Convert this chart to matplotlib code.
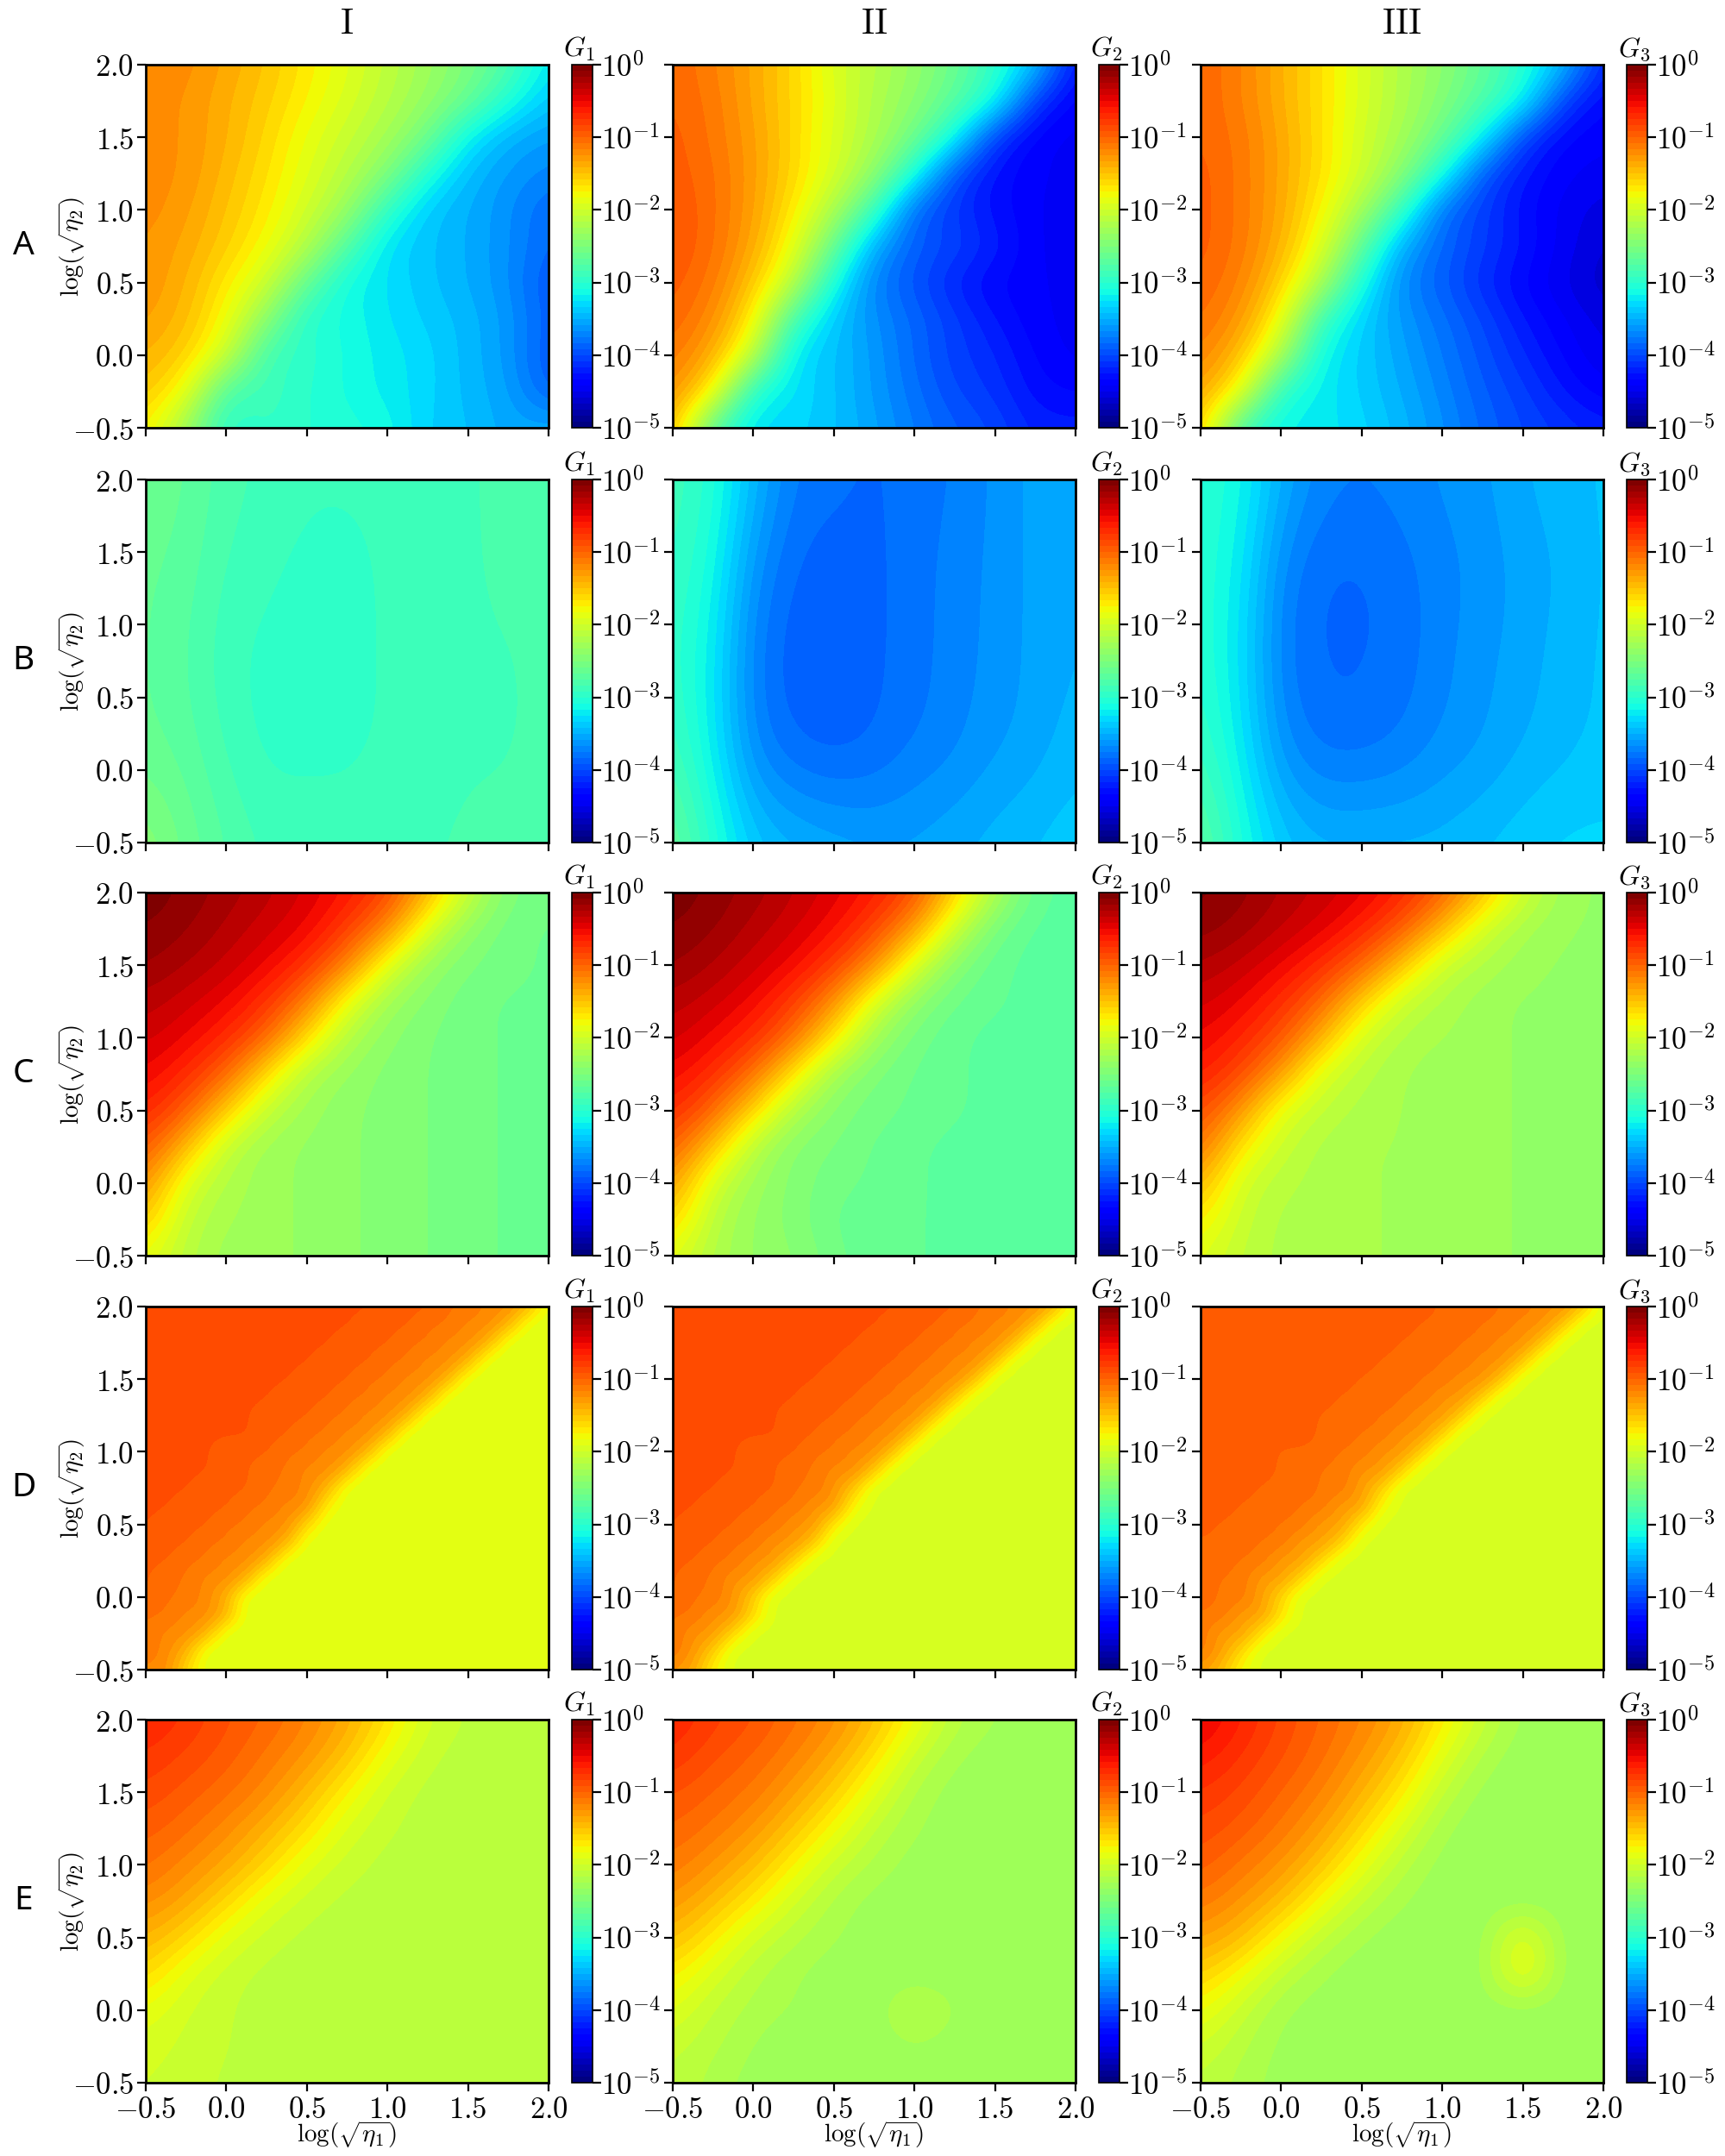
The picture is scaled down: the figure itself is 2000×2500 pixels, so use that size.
#!/usr/bin/env python
import numpy as np
import matplotlib
matplotlib.use('Agg')
import matplotlib.pyplot as plt

plt.rcParams['mathtext.fontset'] = 'cm'
plt.rcParams['axes.linewidth'] = 1.0

row_names = ['A', 'B', 'C', 'D', 'E']
col_names = ['I', 'II', 'III']
ticks = [-0.5, 0.0, 0.5, 1.0, 1.5, 2.0]
cbar_ticks = [-5, -4, -3, -2, -1, 0]

# log10(G), first row is the top of the panel (log sqrt(eta2) = 2)
A1 = [[-1.2,-1.2,-1.35,-1.5,-1.7,-1.9,-2.1,-2.3,-2.5,-2.75,-3.25],
      [-1.2,-1.25,-1.4,-1.55,-1.75,-1.95,-2.15,-2.35,-2.6,-3.05,-3.4],
      [-1.2,-1.25,-1.4,-1.6,-1.85,-2.05,-2.25,-2.55,-3.2,-3.5,-3.6],
      [-1.2,-1.25,-1.45,-1.65,-1.9,-2.15,-2.45,-3.05,-3.45,-3.6,-3.7],
      [-1.2,-1.3,-1.5,-1.7,-2.0,-2.3,-2.95,-3.4,-3.5,-3.65,-3.85],
      [-1.25,-1.35,-1.55,-1.8,-2.15,-2.75,-3.3,-3.4,-3.5,-3.65,-3.85],
      [-1.25,-1.4,-1.7,-2.0,-2.65,-3.15,-3.25,-3.4,-3.5,-3.65,-3.95],
      [-1.3,-1.45,-1.8,-2.4,-3.05,-3.1,-3.25,-3.35,-3.45,-3.6,-3.9],
      [-1.4,-1.55,-2.0,-2.9,-2.95,-3.1,-3.2,-3.3,-3.45,-3.6,-3.95],
      [-1.5,-1.8,-2.85,-2.85,-3.0,-3.1,-3.2,-3.3,-3.45,-3.55,-3.9],
      [-1.7,-2.3,-3.05,-2.9,-3.0,-3.05,-3.1,-3.35,-3.4,-3.55,-3.5]]
A2 = [[-1.0,-1.15,-1.35,-1.6,-1.95,-2.15,-2.35,-2.6,-2.95,-3.35,-4.3],
      [-1.0,-1.1,-1.35,-1.6,-1.9,-2.2,-2.4,-2.7,-3.05,-4.1,-4.4],
      [-0.95,-1.1,-1.3,-1.6,-1.95,-2.2,-2.55,-3.1,-4.1,-4.4,-4.45],
      [-0.95,-1.05,-1.3,-1.6,-1.95,-2.35,-3.05,-4.0,-4.3,-4.4,-4.45],
      [-0.9,-1.05,-1.3,-1.7,-2.2,-2.85,-3.9,-4.1,-4.3,-4.4,-4.5],
      [-0.9,-1.05,-1.35,-1.85,-2.6,-3.55,-3.9,-4.0,-4.2,-4.4,-4.5],
      [-0.95,-1.1,-1.5,-2.1,-3.1,-3.75,-3.95,-4.2,-4.35,-4.4,-4.45],
      [-1.0,-1.2,-1.7,-2.85,-3.4,-3.65,-3.85,-4.05,-4.25,-4.4,-4.45],
      [-1.1,-1.35,-2.05,-3.3,-3.4,-3.6,-3.85,-4.05,-4.15,-4.35,-4.45],
      [-1.2,-1.7,-3.1,-3.25,-3.4,-3.6,-3.8,-4.0,-4.1,-4.3,-4.35],
      [-1.4,-2.8,-3.3,-3.3,-3.4,-3.55,-3.75,-3.9,-4.0,-4.2,-4.2]]
A3 = [[-1.0,-1.15,-1.4,-1.65,-1.95,-2.2,-2.4,-2.65,-3.0,-3.4,-4.2],
      [-1.0,-1.15,-1.4,-1.65,-1.95,-2.2,-2.45,-2.75,-3.1,-4.05,-4.35],
      [-1.0,-1.1,-1.35,-1.65,-2.0,-2.25,-2.6,-3.15,-4.05,-4.35,-4.4],
      [-0.95,-1.1,-1.35,-1.65,-2.0,-2.4,-3.05,-3.95,-4.25,-4.4,-4.45],
      [-0.95,-1.1,-1.35,-1.75,-2.25,-2.9,-3.85,-4.05,-4.3,-4.45,-4.55],
      [-0.95,-1.1,-1.4,-1.9,-2.65,-3.55,-3.85,-4.05,-4.25,-4.45,-4.6],
      [-1.0,-1.15,-1.55,-2.2,-3.1,-3.7,-3.9,-4.15,-4.35,-4.5,-4.65],
      [-1.05,-1.25,-1.8,-2.9,-3.35,-3.6,-3.8,-4.0,-4.25,-4.4,-4.55],
      [-1.15,-1.45,-2.2,-3.2,-3.35,-3.55,-3.75,-3.95,-4.15,-4.35,-4.5],
      [-1.3,-1.8,-3.05,-3.2,-3.35,-3.5,-3.7,-3.9,-4.05,-4.25,-4.4],
      [-1.5,-2.9,-3.2,-3.2,-3.3,-3.45,-3.65,-3.85,-4.0,-4.1,-4.2]]

B1 = [[-2.6,-2.65,-2.8,-2.85,-2.9,-2.9,-2.9,-2.85,-2.85,-2.8,-2.75],
      [-2.65,-2.7,-2.85,-2.9,-2.95,-2.95,-2.9,-2.9,-2.85,-2.8,-2.8],
      [-2.65,-2.75,-2.9,-2.95,-2.95,-2.95,-2.9,-2.9,-2.85,-2.85,-2.8],
      [-2.65,-2.7,-2.85,-2.95,-2.95,-2.95,-2.9,-2.9,-2.85,-2.85,-2.8],
      [-2.4,-2.6,-2.75,-2.85,-2.85,-2.85,-2.85,-2.85,-2.8,-2.8,-2.75]]
B2 = [[-2.85,-3.0,-3.45,-3.75,-3.8,-3.85,-3.8,-3.75,-3.65,-3.55,-3.5],
      [-2.9,-3.1,-3.65,-3.85,-3.9,-3.85,-3.8,-3.7,-3.65,-3.55,-3.5],
      [-2.95,-3.2,-3.75,-3.9,-3.9,-3.85,-3.8,-3.7,-3.65,-3.55,-3.5],
      [-2.85,-3.2,-3.7,-3.85,-3.9,-3.85,-3.75,-3.7,-3.6,-3.55,-3.45],
      [-2.6,-3.0,-3.35,-3.45,-3.5,-3.55,-3.55,-3.5,-3.45,-3.4,-3.35]]
B3 = [[-3.0,-3.1,-3.5,-3.7,-3.75,-3.7,-3.65,-3.6,-3.5,-3.45,-3.4],
      [-3.0,-3.2,-3.7,-3.85,-3.85,-3.8,-3.7,-3.65,-3.55,-3.5,-3.4],
      [-3.0,-3.25,-3.75,-3.85,-3.85,-3.8,-3.7,-3.6,-3.55,-3.45,-3.4],
      [-2.9,-3.2,-3.65,-3.8,-3.8,-3.75,-3.65,-3.6,-3.5,-3.45,-3.4],
      [-2.65,-3.05,-3.35,-3.45,-3.45,-3.45,-3.45,-3.4,-3.35,-3.3,-3.3]]

C1 = [[-0.02,-0.1,-0.2,-0.3,-0.42,-0.58,-0.8,-1.4,-2.05,-2.5,-2.55],
      [-0.08,-0.15,-0.27,-0.38,-0.5,-0.78,-1.2,-1.95,-2.4,-2.55,-2.6],
      [-0.15,-0.25,-0.35,-0.5,-0.72,-1.15,-1.9,-2.35,-2.5,-2.55,-2.6],
      [-0.28,-0.38,-0.5,-0.72,-1.12,-1.85,-2.3,-2.45,-2.55,-2.6,-2.6],
      [-0.38,-0.5,-0.68,-1.0,-1.65,-2.2,-2.4,-2.5,-2.55,-2.6,-2.6],
      [-0.5,-0.68,-1.0,-1.65,-2.2,-2.35,-2.45,-2.5,-2.55,-2.6,-2.6],
      [-0.65,-0.95,-1.55,-2.1,-2.3,-2.4,-2.45,-2.5,-2.55,-2.6,-2.6],
      [-0.9,-1.45,-2.1,-2.3,-2.35,-2.4,-2.45,-2.5,-2.55,-2.6,-2.6],
      [-1.2,-1.95,-2.2,-2.3,-2.35,-2.4,-2.45,-2.5,-2.55,-2.6,-2.6],
      [-1.5,-2.1,-2.25,-2.3,-2.35,-2.4,-2.45,-2.5,-2.55,-2.6,-2.6],
      [-1.85,-2.15,-2.3,-2.3,-2.35,-2.4,-2.45,-2.5,-2.55,-2.6,-2.6]]
C2 = [[-0.02,-0.1,-0.2,-0.32,-0.45,-0.6,-0.85,-1.55,-2.2,-2.65,-2.7],
      [-0.08,-0.15,-0.28,-0.4,-0.55,-0.82,-1.3,-2.05,-2.55,-2.7,-2.7],
      [-0.15,-0.25,-0.38,-0.52,-0.78,-1.2,-1.95,-2.45,-2.65,-2.7,-2.7],
      [-0.28,-0.38,-0.52,-0.78,-1.2,-1.95,-2.4,-2.6,-2.65,-2.7,-2.7],
      [-0.38,-0.52,-0.7,-1.05,-1.7,-2.3,-2.55,-2.65,-2.7,-2.7,-2.7],
      [-0.52,-0.7,-1.05,-1.7,-2.3,-2.5,-2.6,-2.65,-2.7,-2.7,-2.7],
      [-0.68,-1.0,-1.6,-2.2,-2.45,-2.55,-2.6,-2.65,-2.7,-2.7,-2.7],
      [-0.95,-1.5,-2.15,-2.45,-2.5,-2.6,-2.65,-2.7,-2.7,-2.7,-2.7],
      [-1.25,-2.0,-2.3,-2.45,-2.55,-2.6,-2.65,-2.7,-2.7,-2.7,-2.7],
      [-1.55,-2.15,-2.35,-2.45,-2.6,-2.65,-2.65,-2.7,-2.7,-2.7,-2.7],
      [-1.9,-2.2,-2.35,-2.4,-2.55,-2.65,-2.65,-2.7,-2.7,-2.7,-2.7]]
C3 = [[-0.05,-0.13,-0.25,-0.35,-0.45,-0.65,-0.95,-1.45,-2.0,-2.3,-2.35],
      [-0.12,-0.2,-0.33,-0.45,-0.65,-0.95,-1.45,-2.0,-2.25,-2.33,-2.35],
      [-0.25,-0.35,-0.5,-0.7,-1.0,-1.5,-2.05,-2.2,-2.3,-2.35,-2.35],
      [-0.38,-0.5,-0.7,-1.0,-1.55,-2.05,-2.2,-2.3,-2.35,-2.35,-2.35],
      [-0.5,-0.65,-0.9,-1.4,-2.0,-2.2,-2.25,-2.3,-2.35,-2.35,-2.35],
      [-0.62,-0.85,-1.3,-1.95,-2.15,-2.25,-2.3,-2.3,-2.35,-2.35,-2.35],
      [-0.85,-1.25,-1.9,-2.1,-2.2,-2.25,-2.3,-2.3,-2.35,-2.35,-2.35],
      [-1.05,-1.7,-2.05,-2.2,-2.25,-2.25,-2.3,-2.3,-2.35,-2.35,-2.35],
      [-1.4,-2.0,-2.15,-2.2,-2.25,-2.25,-2.3,-2.3,-2.35,-2.35,-2.35],
      [-1.7,-2.05,-2.2,-2.2,-2.25,-2.25,-2.3,-2.3,-2.35,-2.35,-2.35],
      [-1.9,-2.1,-2.2,-2.2,-2.25,-2.25,-2.3,-2.3,-2.35,-2.35,-2.35]]

D1 = [[-0.9]*12+[-0.98]*3+[-1.08]*2+[-1.2]*2+[-1.4]+[-1.9],
      [-0.9]*11+[-0.98]*3+[-1.08]*2+[-1.2]*2+[-1.4]+[-1.9]*2,
      [-0.9]*10+[-0.98]*3+[-1.08]*2+[-1.2]*2+[-1.4]+[-1.9]*3,
      [-0.9]*9+[-0.98]*3+[-1.08]*2+[-1.2]*2+[-1.4]+[-1.9]*4,
      [-0.9]*8+[-0.98]*3+[-1.08]*2+[-1.2]*2+[-1.4]+[-1.9]*5,
      [-0.9]*7+[-0.98]*3+[-1.08]*2+[-1.2]*2+[-1.4]+[-1.9]*6,
      [-0.9]*6+[-0.98]*3+[-1.08]*2+[-1.2]*2+[-1.4]+[-1.9]*7,
      [-0.9]*6+[-0.98]*2+[-1.08]*2+[-1.2]*2+[-1.4]+[-1.9]*8,
      [-0.9]*4+[-0.98]*3+[-1.08]*2+[-1.2]*2+[-1.4]+[-1.9]*9,
      [-0.9]*4+[-0.98]*2+[-1.08]*2+[-1.2]*2+[-1.4]+[-1.9]*10,
      [-0.9]*3+[-0.98]*3+[-1.08]*2+[-1.2]+[-1.4]+[-1.9]*11,
      [-0.9]*2+[-0.98]*3+[-1.08]*2+[-1.2]*2+[-1.75]+[-1.9]*11,
      [-0.9]+[-0.98]*3+[-1.08]*2+[-1.2]*2+[-1.6]+[-1.9]*12,
      [-0.98]*3+[-1.08]*2+[-1.2]*2+[-1.4]+[-1.9]*13,
      [-0.98]*2+[-1.08]*2+[-1.2]*2+[-1.4]+[-1.9]*14,
      [-0.98]+[-1.08]*2+[-1.2]*2+[-1.4]+[-1.9]*15,
      [-0.98]+[-1.08]*2+[-1.2]+[-1.4]+[-1.9]*16,
      [-1.08]*2+[-1.2]*2+[-1.4]+[-1.9]*16,
      [-1.08]+[-1.2]*2+[-1.4]+[-1.9]*17,
      [-1.08]+[-1.2]+[-1.4]+[-1.9]*18,
      [-1.2]*2+[-1.6]+[-1.9]*18]
D2 = [[-0.9]*12+[-0.98]*3+[-1.08]*2+[-1.2]*2+[-1.4]+[-1.95],
      [-0.9]*11+[-0.98]*3+[-1.08]*2+[-1.2]*2+[-1.45]+[-1.95]*2,
      [-0.9]*10+[-0.98]*3+[-1.08]*2+[-1.2]*2+[-1.45]+[-1.95]*3,
      [-0.9]*9+[-0.98]*3+[-1.08]*2+[-1.2]*2+[-1.45]+[-1.95]*4,
      [-0.9]*8+[-0.98]*3+[-1.08]*2+[-1.2]*2+[-1.45]+[-1.95]*5,
      [-0.9]*7+[-0.98]*3+[-1.08]*2+[-1.2]*2+[-1.5]+[-1.95]*6,
      [-0.9]*6+[-0.98]*3+[-1.08]*2+[-1.2]*2+[-1.5]+[-1.95]*7,
      [-0.9]*6+[-0.98]*2+[-1.08]*2+[-1.2]*2+[-1.5]+[-1.95]*8,
      [-0.9]*4+[-0.98]*3+[-1.08]*2+[-1.2]*2+[-1.5]+[-1.95]*9,
      [-0.9]*4+[-0.98]*2+[-1.08]*2+[-1.2]*2+[-1.5]+[-1.95]*10,
      [-0.9]*3+[-0.98]*3+[-1.08]*2+[-1.25]+[-1.5]+[-1.95]*11,
      [-0.9]*2+[-0.98]*3+[-1.08]*2+[-1.25]*2+[-1.8]+[-1.95]*11,
      [-0.9]+[-0.98]*3+[-1.08]*2+[-1.25]*2+[-1.7]+[-1.95]*12,
      [-0.98]*3+[-1.08]*2+[-1.25]*2+[-1.5]+[-1.95]*13,
      [-0.98]*2+[-1.08]*2+[-1.25]*2+[-1.55]+[-1.95]*14,
      [-0.98]+[-1.08]*2+[-1.25]*2+[-1.55]+[-1.95]*15,
      [-0.98]+[-1.08]*2+[-1.25]+[-1.55]+[-1.95]*16,
      [-1.08]*2+[-1.25]*2+[-1.6]+[-1.95]*16,
      [-1.08]+[-1.25]*2+[-1.6]+[-1.95]*17,
      [-1.08]+[-1.25]+[-1.55]+[-1.95]*18,
      [-1.25]+[-1.35]+[-1.75]+[-1.95]*18]
D3 = [[-0.95]*12+[-1.02]*3+[-1.1]*2+[-1.22]*2+[-1.45]+[-1.95],
      [-0.95]*11+[-1.02]*3+[-1.1]*2+[-1.22]*2+[-1.5]+[-1.95]*2,
      [-0.95]*10+[-1.02]*3+[-1.1]*2+[-1.22]*2+[-1.5]+[-1.95]*3,
      [-0.95]*9+[-1.02]*3+[-1.1]*2+[-1.22]*2+[-1.5]+[-1.95]*4,
      [-0.95]*8+[-1.02]*3+[-1.1]*2+[-1.22]*2+[-1.5]+[-1.95]*5,
      [-0.95]*7+[-1.02]*3+[-1.1]*2+[-1.25]*2+[-1.55]+[-1.95]*6,
      [-0.95]*6+[-1.02]*3+[-1.1]*2+[-1.25]*2+[-1.55]+[-1.95]*7,
      [-0.95]*6+[-1.02]*2+[-1.1]*2+[-1.25]*2+[-1.55]+[-1.95]*8,
      [-0.95]*4+[-1.02]*3+[-1.1]*2+[-1.25]*2+[-1.55]+[-1.95]*9,
      [-0.95]*4+[-1.02]*2+[-1.1]*2+[-1.25]*2+[-1.55]+[-1.95]*10,
      [-0.95]*3+[-1.02]*3+[-1.1]*2+[-1.3]+[-1.55]+[-1.95]*11,
      [-0.95]*2+[-1.02]*3+[-1.1]*2+[-1.3]*2+[-1.8]+[-1.95]*11,
      [-0.95]+[-1.02]*3+[-1.1]*2+[-1.3]*2+[-1.7]+[-1.95]*12,
      [-1.02]*3+[-1.1]*2+[-1.3]*2+[-1.55]+[-1.95]*13,
      [-1.02]*2+[-1.1]*2+[-1.3]*2+[-1.6]+[-1.95]*14,
      [-1.02]+[-1.1]*2+[-1.3]*2+[-1.6]+[-1.95]*15,
      [-1.02]+[-1.1]*2+[-1.3]+[-1.6]+[-1.95]*16,
      [-1.1]*2+[-1.3]*2+[-1.65]+[-1.95]*16,
      [-1.1]+[-1.3]*2+[-1.65]+[-1.95]*17,
      [-1.1]+[-1.3]+[-1.6]+[-1.95]*18,
      [-1.3]+[-1.45]+[-1.8]+[-1.95]*18]

E1 = [[-0.65,-0.75,-0.9,-1.0,-1.15,-1.35,-1.65,-2.0,-2.1,-2.12,-2.12],
      [-0.75,-0.85,-0.95,-1.1,-1.25,-1.5,-1.85,-2.08,-2.12,-2.12,-2.12],
      [-0.85,-0.95,-1.05,-1.2,-1.45,-1.75,-2.03,-2.12,-2.12,-2.12,-2.12],
      [-0.95,-1.05,-1.2,-1.4,-1.65,-1.95,-2.08,-2.12,-2.12,-2.12,-2.12],
      [-1.05,-1.2,-1.35,-1.6,-1.9,-2.05,-2.12,-2.12,-2.12,-2.12,-2.12],
      [-1.2,-1.35,-1.6,-1.9,-2.05,-2.12,-2.12,-2.12,-2.12,-2.12,-2.12],
      [-1.4,-1.6,-1.9,-2.05,-2.12,-2.12,-2.12,-2.12,-2.16,-2.12,-2.12],
      [-1.6,-1.9,-2.05,-2.12,-2.12,-2.12,-2.12,-2.12,-2.18,-2.14,-2.12],
      [-1.85,-2.0,-2.08,-2.12,-2.12,-2.12,-2.12,-2.12,-2.05,-2.16,-2.12],
      [-1.95,-2.03,-2.08,-2.12,-2.12,-2.12,-2.12,-2.2,-2.16,-2.12,-2.12],
      [-2.0,-2.05,-2.1,-2.12,-2.12,-2.12,-2.12,-2.12,-2.12,-2.12,-2.12]]
E2 = [[-0.65,-0.8,-0.9,-1.05,-1.2,-1.45,-1.8,-2.15,-2.25,-2.3,-2.3],
      [-0.75,-0.9,-1.0,-1.15,-1.35,-1.65,-2.05,-2.25,-2.3,-2.3,-2.3],
      [-0.9,-1.0,-1.1,-1.3,-1.55,-1.9,-2.2,-2.3,-2.3,-2.3,-2.3],
      [-1.0,-1.1,-1.25,-1.5,-1.8,-2.1,-2.25,-2.3,-2.3,-2.3,-2.3],
      [-1.1,-1.25,-1.45,-1.75,-2.05,-2.2,-2.3,-2.3,-2.3,-2.3,-2.3],
      [-1.25,-1.45,-1.7,-2.0,-2.2,-2.3,-2.3,-2.3,-2.3,-2.3,-2.3],
      [-1.45,-1.7,-2.0,-2.15,-2.25,-2.3,-2.3,-2.3,-2.26,-2.3,-2.3],
      [-1.7,-1.95,-2.15,-2.25,-2.3,-2.3,-2.3,-2.3,-2.3,-2.3,-2.3],
      [-1.9,-2.1,-2.2,-2.25,-2.3,-2.3,-2.12,-2.25,-2.3,-2.3,-2.3],
      [-2.05,-2.15,-2.25,-2.35,-2.3,-2.3,-2.25,-2.3,-2.3,-2.3,-2.3],
      [-2.1,-2.2,-2.3,-2.35,-2.3,-2.3,-2.3,-2.3,-2.3,-2.3,-2.3]]
E3 = [[-0.45,-0.65,-0.85,-1.0,-1.15,-1.35,-1.7,-2.05,-2.28,-2.32,-2.32],
      [-0.6,-0.75,-0.9,-1.05,-1.25,-1.5,-1.9,-2.2,-2.32,-2.32,-2.32],
      [-0.75,-0.85,-1.0,-1.15,-1.4,-1.7,-2.1,-2.3,-2.32,-2.32,-2.32],
      [-0.85,-0.95,-1.1,-1.3,-1.6,-1.95,-2.25,-2.32,-2.32,-2.32,-2.32],
      [-0.95,-1.1,-1.25,-1.5,-1.85,-2.15,-2.3,-2.32,-2.32,-2.32,-2.32],
      [-1.1,-1.25,-1.45,-1.8,-2.1,-2.25,-2.32,-2.32,-2.32,-2.32,-2.32],
      [-1.3,-1.45,-1.8,-2.1,-2.25,-2.32,-2.32,-2.32,-1.8,-2.32,-2.32],
      [-1.55,-1.8,-2.1,-2.25,-2.32,-2.32,-2.32,-2.32,-1.72,-2.32,-2.32],
      [-1.8,-2.05,-2.25,-2.3,-2.32,-2.32,-2.22,-2.32,-2.32,-2.32,-2.32],
      [-2.0,-2.15,-2.28,-2.32,-2.32,-2.32,-2.25,-2.32,-2.32,-2.32,-2.32],
      [-2.1,-2.2,-2.3,-2.32,-2.32,-2.32,-2.32,-2.32,-2.32,-2.3,-2.25]]

panels = [[A1, A2, A3], [B1, B2, B3], [C1, C2, C3], [D1, D2, D3], [E1, E2, E3]]

W, H = 2000, 2500
lefts = [169, 780, 1392]
tops = [75, 556, 1035, 1515, 1994]
ax_w, ax_h = 467, 421

def rect(x, y, w, h):
    # pixel box (from top left) to figure fractions
    return [x / W, 1 - (y + h) / H, w / W, h / H]

def tex(v):
    return '$%.1f$' % v

fig = plt.figure(figsize=(W / 200, H / 200), dpi=200)
cmap = plt.get_cmap('jet', 60)

for i, row in enumerate(panels):
    for j, vals in enumerate(row):
        z = np.array(vals)
        dx = 2.5 / (z.shape[1] - 1)
        dy = 2.5 / (z.shape[0] - 1)
        ax = fig.add_axes(rect(lefts[j], tops[i], ax_w, ax_h))
        im = ax.imshow(z, cmap=cmap, vmin=-5, vmax=0, aspect='auto', origin='upper',
                       extent=(-0.5 - dx / 2, 2.0 + dx / 2, -0.5 - dy / 2, 2.0 + dy / 2),
                       interpolation='bicubic', interpolation_stage='data')
        ax.set_xlim(-0.5, 2.0)
        ax.set_ylim(-0.5, 2.0)
        ax.set_xticks(ticks)
        ax.set_yticks(ticks)
        ax.tick_params(pad=1.5)
        if i == len(panels) - 1:
            ax.set_xticklabels([tex(t) for t in ticks], fontsize=12.5)
            ax.text(0.5, -0.142, r'$\log(\sqrt{\eta_1})$', transform=ax.transAxes,
                    fontsize=10.5, ha='center', va='center')
        else:
            ax.set_xticklabels([])
        if j == 0:
            ax.set_yticklabels([tex(t) for t in ticks], fontsize=12.5)
            ax.text(-0.184, 0.5, r'$\log(\sqrt{\eta_2})$', transform=ax.transAxes,
                    fontsize=10.5, ha='center', va='center', rotation=90)
        else:
            ax.set_yticklabels([])

        cax = fig.add_axes(rect(lefts[j] + 494, tops[i], 24, ax_h))
        cb = fig.colorbar(im, cax=cax, ticks=cbar_ticks)
        cb.ax.set_yticklabels(['$10^{%d}$' % t for t in cbar_ticks], fontsize=12.5)
        cb.ax.tick_params(pad=0, length=3.5)
        cb.outline.set_linewidth(0.6)
        cax.text(0.35, 1.005, '$G_{%d}$' % (j + 1), transform=cax.transAxes,
                 ha='center', va='bottom', fontsize=11.5)

for i, name in enumerate(row_names):
    fig.text(27 / W, 1 - (tops[i] + 210) / H, name, family='Noto Sans', fontsize=14,
             ha='center', va='center')
for j, name in enumerate(col_names):
    fig.text((lefts[j] + ax_w / 2) / W, 1 - 27 / H, r'$\mathrm{%s}$' % name, fontsize=15,
             ha='center', va='center')

fig.savefig('out.png', dpi=200)
